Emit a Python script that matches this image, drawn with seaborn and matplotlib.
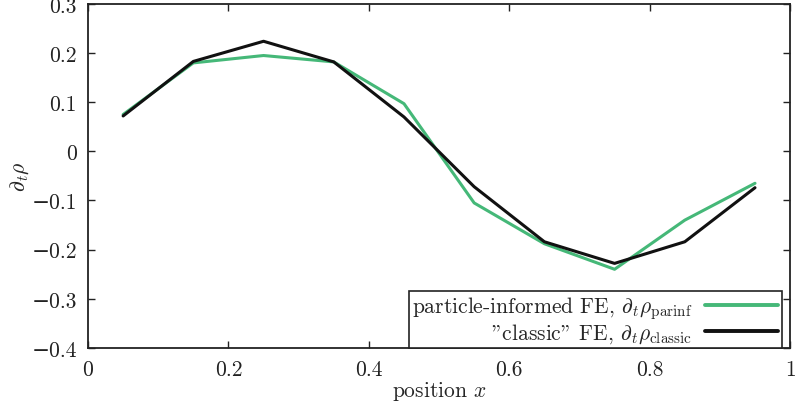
import matplotlib
matplotlib.use("Agg")
import matplotlib.pyplot as plt
import seaborn as sns
import pandas as pd

position = [0.05, 0.15, 0.25, 0.35, 0.45, 0.55, 0.65, 0.75, 0.85, 0.95]
parinf = [0.075, 0.180, 0.195, 0.182, 0.097, -0.105, -0.188, -0.240, -0.140, -0.065]
classic = [0.072, 0.183, 0.224, 0.182, 0.070, -0.072, -0.184, -0.228, -0.184, -0.074]

labels = [r"particle-informed FE, $\partial_t\rho_{\mathrm{parinf}}$",
          r'"classic" FE, $\partial_t\rho_{\mathrm{classic}}$']
colors = ["#45b878", "#111111"]

df = pd.DataFrame({
    "x": position * 2,
    "y": parinf + classic,
    "series": [labels[0]] * len(position) + [labels[1]] * len(position),
})

sns.set_style("ticks")
plt.rcParams["font.family"] = ["cmr10", "DejaVu Serif"]
plt.rcParams["mathtext.fontset"] = "cm"
plt.rcParams["axes.formatter.use_mathtext"] = True
plt.rcParams["axes.unicode_minus"] = True

fig = plt.figure(figsize=(7.96, 4.10), dpi=100)
ax = fig.add_axes([0.1106, 0.149, 0.882, 0.839])

sns.lineplot(data=df, x="x", y="y", hue="series", palette=colors,
             linewidth=2.2, ax=ax, legend=False)

fs = 15.5
ax.set_xlim(0, 1)
ax.set_ylim(-0.4, 0.3)
ax.set_xticks([0, 0.2, 0.4, 0.6, 0.8, 1])
ax.set_xticklabels(["0", "0.2", "0.4", "0.6", "0.8", "1"])
ax.set_yticks([-0.4, -0.3, -0.2, -0.1, 0, 0.1, 0.2, 0.3])
ax.set_yticklabels(["\u22120.4", "\u22120.3", "\u22120.2", "\u22120.1", "0", "0.1", "0.2", "0.3"])
ax.tick_params(direction="in", top=True, right=True, length=5, width=1,
               labelsize=fs, colors="#222222")
ax.tick_params(axis="x", pad=8)
ax.tick_params(axis="y", pad=8)
for s in ax.spines.values():
    s.set_linewidth(1.3)
    s.set_color("#222222")

ax.set_xlabel("position $x$", fontsize=fs, labelpad=0)
ax.set_ylabel(r"$\partial_t\rho$", fontsize=fs, labelpad=0)

handles = [plt.Line2D([], [], color=c, linewidth=2.8) for c in colors]
leg = ax.legend(handles, labels, loc="lower right", markerfirst=False,
                fancybox=False, frameon=True, edgecolor="#222222",
                fontsize=fs, borderaxespad=0.0, handlelength=3.4,
                handletextpad=0.6, labelspacing=0.0, borderpad=0.15,
                bbox_to_anchor=(0.988, 0.0))
leg.get_frame().set_linewidth(1.2)
leg.get_frame().set_alpha(1)

fig.savefig("out.png", dpi=100)
